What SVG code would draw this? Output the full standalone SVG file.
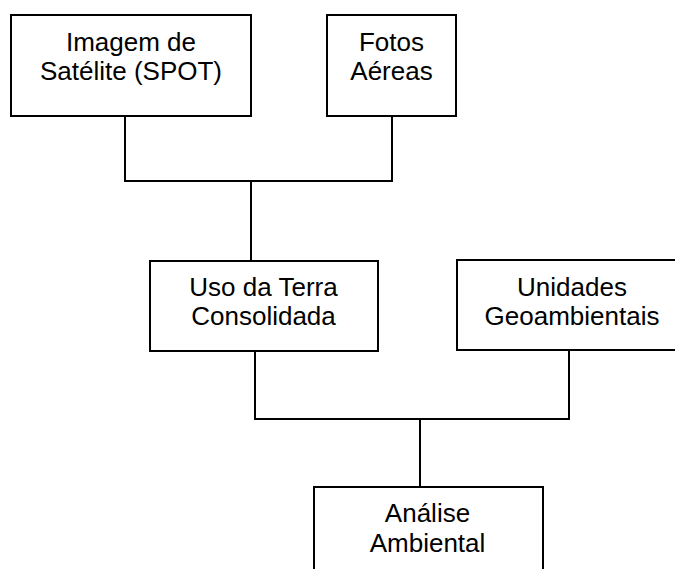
<svg xmlns="http://www.w3.org/2000/svg" width="675" height="569" viewBox="0 0 675 569">
<style>
.box{fill:#fff;stroke:#000;stroke-width:2}
.conn{fill:none;stroke:#000;stroke-width:2}
.t{font-family:"Liberation Sans",Arial,sans-serif;font-size:26px;fill:#000;text-anchor:middle}
</style>
<rect width="675" height="569" fill="#fff"/>
<g id="connectors">
<path class="conn" d="M125,116 V181 H392 V116"/>
<path class="conn" d="M251,181 V261"/>
<path class="conn" d="M255,351 V419 H569 V350"/>
<path class="conn" d="M420,419 V487"/>
</g>
<g id="imagem-satelite">
<rect class="box" x="11" y="15" width="240" height="101"/>
<text class="t" x="131" y="50.5">Imagem de</text>
<text class="t" x="131" y="80">Satélite (SPOT)</text>
</g>
<g id="fotos-aereas">
<rect class="box" x="327" y="15" width="129" height="101"/>
<text class="t" x="391.5" y="50.5">Fotos</text>
<text class="t" x="391.5" y="80">Aéreas</text>
</g>
<g id="uso-terra">
<rect class="box" x="150" y="261" width="228" height="90"/>
<text class="t" x="263.5" y="295.5">Uso da Terra</text>
<text class="t" x="263.5" y="325">Consolidada</text>
</g>
<g id="unidades-geoambientais">
<rect class="box" x="457" y="260" width="230" height="90"/>
<text class="t" x="572" y="295.5">Unidades</text>
<text class="t" x="572" y="325">Geoambientais</text>
</g>
<g id="analise-ambiental">
<rect class="box" x="314" y="487" width="229" height="100"/>
<text class="t" x="427.5" y="521.5">Análise</text>
<text class="t" x="427.5" y="551.5">Ambiental</text>
</g>
</svg>
